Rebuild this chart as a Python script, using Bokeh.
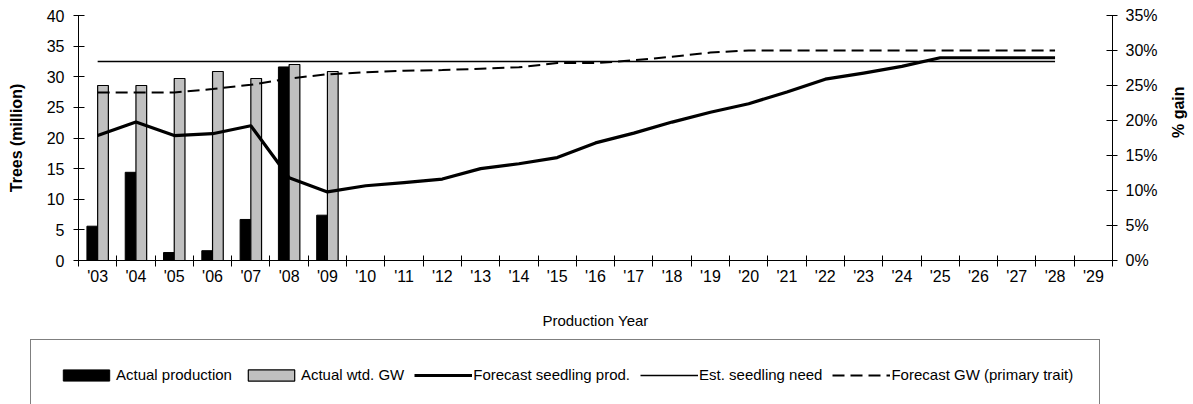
import math
from bokeh.plotting import figure
from bokeh.models import (Range1d, LinearAxis, FixedTicker, PrintfTickFormatter, CustomJSTickFormatter,
                          Legend, LegendItem, ColumnDataSource)
from bokeh.transform import dodge
from bokeh.embed import file_html
from bokeh.resources import INLINE

FONT = "Liberation Sans"

# ---------------- data ----------------
years = ["'03", "'04", "'05", "'06", "'07", "'08", "'09", "'10", "'11", "'12", "'13", "'14", "'15",
         "'16", "'17", "'18", "'19", "'20", "'21", "'22", "'23", "'24", "'25", "'26", "'27", "'28", "'29"]

actual_years = ["'03", "'04", "'05", "'06", "'07", "'08", "'09"]
actual_production = [5.6, 14.4, 1.3, 1.6, 6.7, 31.6, 7.4]          # Trees (million)
actual_wtd_gw = [25.0, 25.0, 26.0, 27.0, 26.0, 28.0, 27.0]           # % gain

forecast_years = ["'03", "'04", "'05", "'06", "'07", "'08", "'09", "'10", "'11", "'12", "'13", "'14", "'15",
                  "'16", "'17", "'18", "'19", "'20", "'21", "'22", "'23", "'24", "'25", "'26", "'27", "'28"]
forecast_seedling_prod = [20.4, 22.6, 20.4, 20.7, 22.0, 13.5, 11.2, 12.2, 12.7, 13.3, 15.0, 15.8, 16.8,
                          19.2, 20.8, 22.6, 24.2, 25.6, 27.5, 29.6, 30.6, 31.7, 33.1, 33.1, 33.1, 33.1]
est_seedling_need = [32.5, 32.5, 32.5, 32.5, 32.5, 32.5, 32.5, 32.5, 32.5, 32.5, 32.5, 32.5, 32.5,
                     32.5, 32.5, 32.5, 32.5, 32.5, 32.5, 32.5, 32.5, 32.5, 32.5, 32.5, 32.5, 32.5]
forecast_gw = [24.0, 24.0, 24.0, 24.5, 25.1, 26.0, 26.6, 26.9, 27.1, 27.2, 27.4, 27.6, 28.2,
               28.2, 28.6, 29.1, 29.7, 30.0, 30.0, 30.0, 30.0, 30.0, 30.0, 30.0, 30.0, 30.0]

left_ticks = [0, 5, 10, 15, 20, 25, 30, 35, 40]
right_ticks = [0, 5, 10, 15, 20, 25, 30, 35]
left_max, right_max = 40, 35

# ---------------- layout (pixels) ----------------
W, H = 1193, 404
PL, PR, PT, PB = 78, 1112, 15, 260          # plot area inside the canvas
n = len(years)
slot_px = (PR - PL) / n
ly_px = (PB - PT) / left_max
ry_px = (PB - PT) / right_max

def slot(y):
    return years.index(y) + 0.5

src_actual = ColumnDataSource(dict(x=[slot(y) for y in actual_years], prod=actual_production, gw=actual_wtd_gw))
src_fc = ColumnDataSource(dict(x=[slot(y) for y in forecast_years], prod=forecast_seedling_prod,
                               need=est_seedling_need, gw=forecast_gw))

# ---------------- figure (frame = whole canvas, axes at fixed locations) ----------------
p = figure(x_range=Range1d(-PL / slot_px, n + (W - PR) / slot_px),
           y_range=Range1d(-(H - PB) / ly_px, left_max + PT / ly_px),
           width=W, height=H, min_border=0,
           x_axis_location=None, y_axis_location=None,
           output_backend="svg", toolbar_location=None, background_fill_color="white",
           border_fill_color="white")
p.outline_line_color = None
p.xgrid.visible = False
p.ygrid.visible = False
p.extra_y_ranges = {"pct": Range1d(-(H - PB) / ry_px, right_max + PT / ry_px)}

yl = LinearAxis(ticker=FixedTicker(ticks=left_ticks), axis_label="Trees (million)",
                fixed_location=0, bounds=(0, left_max))
yr = LinearAxis(y_range_name="pct", ticker=FixedTicker(ticks=right_ticks),
                formatter=PrintfTickFormatter(format="%d%%"), axis_label="% gain",
                fixed_location=n, bounds=(0, right_max))
for ax in (yl, yr):
    ax.major_tick_in = 6
    ax.major_tick_out = 5
    ax.minor_tick_line_color = None
    ax.major_label_standoff = 8
    ax.major_label_text_font = FONT
    ax.major_label_text_font_size = "16px"
    ax.major_label_text_color = "black"
    ax.axis_label_text_font = FONT
    ax.axis_label_text_font_size = "16px"
    ax.axis_label_text_font_style = "bold"
    ax.axis_label_text_color = "black"
    ax.axis_line_color = "black"
    ax.major_tick_line_color = "black"
yl.major_label_standoff = 9
yl.axis_label_standoff = 19
yr.axis_label_standoff = 18
yr.axis_label_orientation = math.pi / 2
p.add_layout(yl, "left")
p.add_layout(yr, "right")

centers = [slot(y) for y in years]
edges = list(range(n + 1))
xa = LinearAxis(ticker=FixedTicker(ticks=centers, minor_ticks=edges),
                formatter=CustomJSTickFormatter(args=dict(labels=years),
                                                code="return labels[Math.floor(tick)]"),
                axis_label="Production Year", fixed_location=0, bounds=(0, n))
xa.major_tick_in = 0
xa.major_tick_out = 0
xa.major_tick_line_color = None
xa.minor_tick_in = 5
xa.minor_tick_out = 6
xa.minor_tick_line_color = "black"
xa.axis_line_color = "black"
xa.major_label_standoff = 1
xa.major_label_text_font = FONT
xa.major_label_text_font_size = "16px"
xa.major_label_text_color = "black"
xa.axis_label_text_font = FONT
xa.axis_label_text_font_size = "15px"
xa.axis_label_text_font_style = "normal"
xa.axis_label_text_color = "black"
xa.axis_label_standoff = 24
p.add_layout(xa, "below")

# ---------------- glyphs ----------------
r_prod = p.vbar(x=dodge("x", -0.14), top="prod", width=0.28, source=src_actual,
                fill_color="black", line_color="black", line_width=1)
r_gw = p.vbar(x=dodge("x", 0.14), top="gw", width=0.28, source=src_actual,
              y_range_name="pct", fill_color="#c0c0c0", line_color="black", line_width=1.2)
r_need = p.line(x="x", y="need", source=src_fc, line_color="black", line_width=1.5)
r_fgw = p.line(x="x", y="gw", source=src_fc, y_range_name="pct", line_color="black",
               line_width=2, line_dash="12 6")
r_fprod = p.line(x="x", y="prod", source=src_fc, line_color="black", line_width=3.2,
                 line_join="round")

legend = Legend(items=[LegendItem(label="Actual production", renderers=[r_prod]),
                       LegendItem(label="Actual wtd. GW", renderers=[r_gw]),
                       LegendItem(label="Forecast seedling prod.", renderers=[r_fprod]),
                       LegendItem(label="Est. seedling need", renderers=[r_need]),
                       LegendItem(label="Forecast GW (primary trait)", renderers=[r_fgw])],
                orientation="horizontal", location=(30, -6),
                padding=26, spacing=10, label_standoff=1, glyph_width=58, glyph_height=14,
                margin=0, border_line_color="black", border_line_width=1,
                background_fill_color="white", background_fill_alpha=1,
                label_text_font=FONT, label_text_font_size="15px", label_text_color="black")
p.add_layout(legend, "center")

open("out.html", "w").write(file_html(p, INLINE))
